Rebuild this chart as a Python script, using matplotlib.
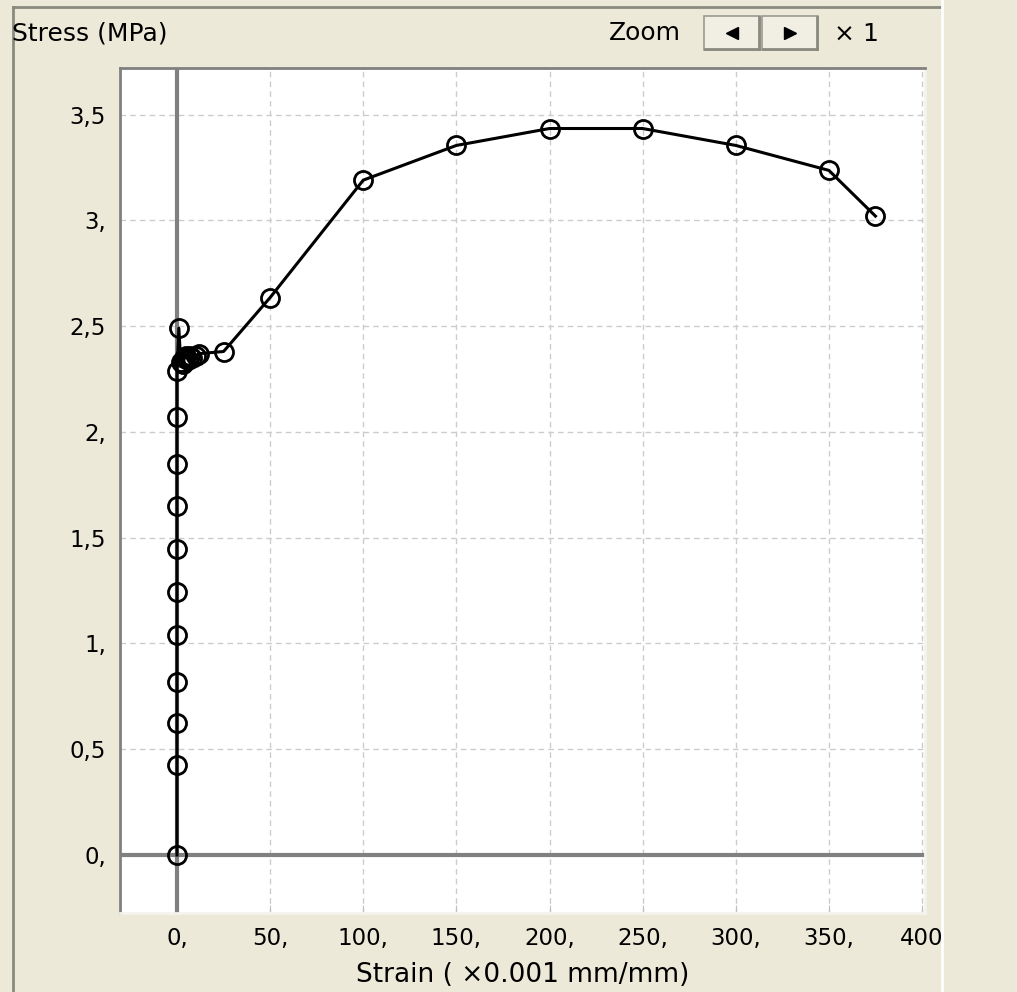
import matplotlib
matplotlib.use("Agg")
import matplotlib.pyplot as plt
from matplotlib.patches import Rectangle

# ---- data ----
strain = [0, 0, 0, 0, 0, 0, 0, 0, 0, 0, 0, 1, 2, 3, 4, 5, 6, 7, 8, 10, 12, 25,
          50, 100, 150, 200, 250, 300, 350, 375]
stress = [0, 0.426, 0.624, 0.818, 1.04, 1.244, 1.447, 1.65, 1.85, 2.07, 2.29,
          2.49, 2.33, 2.32, 2.35, 2.36, 2.34, 2.36, 2.35, 2.36, 2.37, 2.38,
          2.635, 3.19, 3.354, 3.434, 3.434, 3.354, 3.236, 3.02]
x_ticks = [0, 50, 100, 150, 200, 250, 300, 350, 400]
x_tick_labels = ["0,", "50,", "100,", "150,", "200,", "250,", "300,", "350,", "400"]
y_ticks = [0, 0.5, 1, 1.5, 2, 2.5, 3, 3.5]
y_tick_labels = ["0,", "0,5", "1,", "1,5", "2,", "2,5", "3,", "3,5"]

BG = "#ECE9D8"
W, H = 1017, 992
fig = plt.figure(figsize=(W / 100, H / 100), dpi=100, facecolor=BG)
plt.rcParams['font.family'] = ['DejaVu Sans']

# overlay for panel decorations (pixel coordinates)
ov = fig.add_axes([0, 0, 1, 1], zorder=0)
ov.set_xlim(0, W)
ov.set_ylim(H, 0)
ov.axis("off")
ov.patch.set_alpha(0)
ov.plot([13, 13], [7, H], color="#8a8a80", lw=2)
ov.plot([13, 940], [7, 7], color="#8a8a80", lw=2)
ov.plot([942, 942], [0, H], color="#ffffff", lw=2)

ov.text(12, 34, "Stress (MPa)", fontsize=18, va="center", ha="left", color="black")
ov.text(681, 33, "Zoom", fontsize=18, va="center", ha="right", color="black")
for bx in (704, 762):
    ov.add_patch(Rectangle((bx, 16), 56, 34, facecolor="#F1EFE4",
                           edgecolor="#9a9a90", lw=1.2))
    ov.plot([bx + 1, bx + 55], [49, 49], color="#8a8a80", lw=2)
    ov.plot([bx + 55, bx + 55], [17, 49], color="#8a8a80", lw=2)
ov.plot([732], [33], marker="<", color="black", markersize=8)
ov.plot([790], [33], marker=">", color="black", markersize=8)
ov.text(834, 34, "× 1", fontsize=18, va="center", ha="left", color="black")

# ---- main axes ----
left, top, right, bottom = 120, 68, 925, 913
ax = fig.add_axes([left / W, 1 - bottom / H, (right - left) / W, (bottom - top) / H], zorder=1)
ax.set_facecolor("white")
ax.set_xlim(-30.6, 401.6)
ax.set_ylim(-0.274, 3.72)

ax.set_xticks(x_ticks)
ax.set_xticklabels(x_tick_labels)
ax.set_yticks(y_ticks)
ax.set_yticklabels(y_tick_labels)
ax.tick_params(axis="x", direction="in", length=6, color="#c0c0c0", labelsize=16.5, pad=10)
ax.tick_params(axis="y", length=0, labelsize=16.5, pad=10)
ax.grid(True, color="#cccccc", linestyle=(0, (4, 3)), linewidth=1.0)
ax.set_axisbelow(True)

for s in ("left", "top"):
    ax.spines[s].set_color("#808080")
    ax.spines[s].set_linewidth(2)
for s in ("right", "bottom"):
    ax.spines[s].set_color("#f4f3ee")
    ax.spines[s].set_linewidth(2)

ax.axhline(0, color="#808080", lw=3, zorder=2)
ax.axvline(0, color="#808080", lw=3, zorder=2)

ax.plot(strain, stress, color="black", lw=2.2, marker="o", markersize=13,
        markerfacecolor="none", markeredgecolor="black", markeredgewidth=2.0, zorder=3)

ax.set_xlabel("Strain ( ×0.001 mm/mm)", fontsize=19, labelpad=9)

fig.savefig("out.png", dpi=100, facecolor=BG)
